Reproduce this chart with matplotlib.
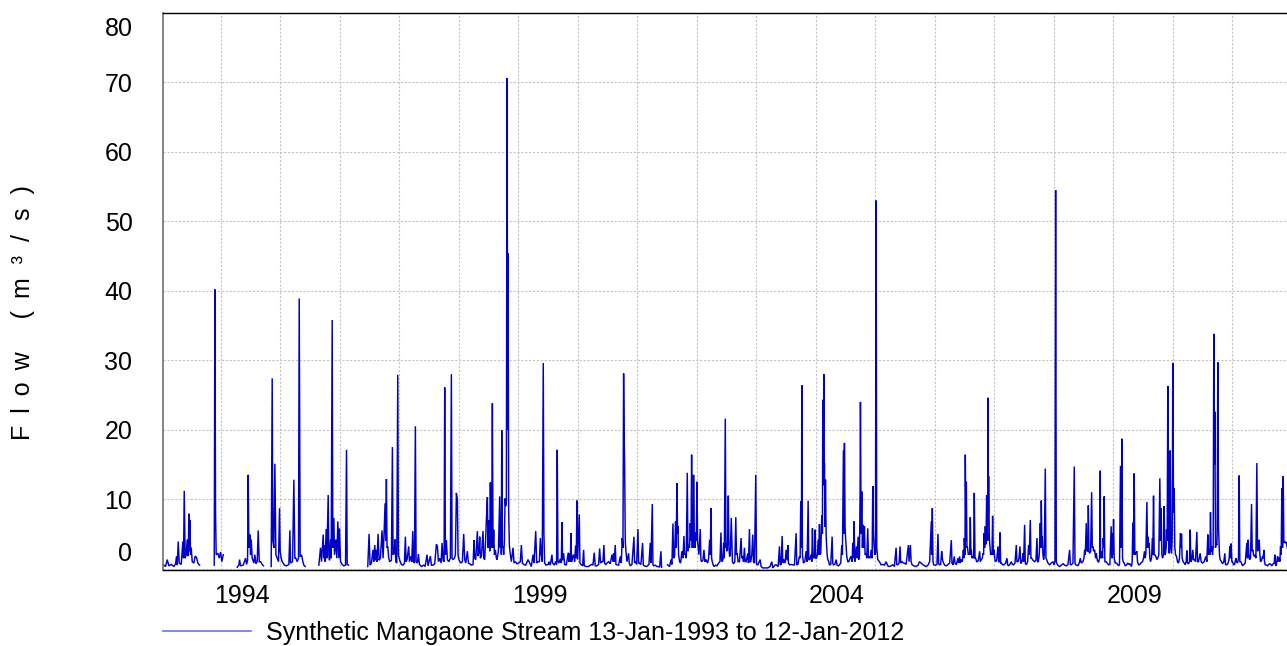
import numpy as np
import matplotlib
matplotlib.use("Agg")
import matplotlib.pyplot as plt
from matplotlib.lines import Line2D
from matplotlib.transforms import ScaledTranslation

nan = np.nan

# daily flow (m3/s), as (decimal year, flow); nan = missing record
flow_1993_1996 = [
    (1993.030, 0.4), (1993.048, 0.5), (1993.076, 0.3), (1993.104, 1.3), (1993.132, 0.4), (1993.171, 0.6),
    (1993.216, 0.3), (1993.244, 0.7), (1993.261, 1.8), (1993.272, 0.5), (1993.289, 3.9), (1993.306, 0.8),
    (1993.339, 0.6), (1993.367, 3.9), (1993.378, 1.5), (1993.390, 11.2), (1993.406, 1.5), (1993.423, 2.0),
    (1993.440, 4.2), (1993.457, 1.8), (1993.468, 7.9), (1993.479, 2.5), (1993.485, 7.0), (1993.496, 2.0),
    (1993.507, 3.0), (1993.524, 1.0), (1993.552, 0.8), (1993.574, 1.8), (1993.597, 1.6), (1993.619, 0.8),
    (1993.647, 0.5), (1993.75, nan),
    (1993.894, 0.5), (1993.905, 40.2), (1993.916, 8.0), (1993.927, 2.0), (1993.955, 2.2), (1993.978, 1.5),
    (1994.000, 2.4), (1994.022, 1.0), (1994.045, 2.0), (1994.15, nan),
    (1994.280, 0.2), (1994.308, 0.5), (1994.319, 1.3), (1994.336, 0.4), (1994.381, 0.5), (1994.420, 1.5),
    (1994.437, 0.6), (1994.454, 1.2), (1994.465, 13.5), (1994.476, 3.0), (1994.493, 4.9), (1994.504, 2.0),
    (1994.515, 4.2), (1994.532, 1.5), (1994.560, 0.8), (1994.577, 2.0), (1994.594, 0.7), (1994.616, 1.0),
    (1994.633, 5.5), (1994.650, 1.0), (1994.672, 1.0), (1994.700, 0.6), (1994.722, 0.4), (1994.78, nan),
    (1994.851, 0.3), (1994.868, 27.4), (1994.879, 4.0), (1994.896, 3.0), (1994.913, 15.1), (1994.930, 2.0),
    (1994.952, 1.5), (1994.974, 1.0), (1994.991, 8.7), (1995.002, 2.5), (1995.019, 1.5), (1995.036, 1.0),
    (1995.075, 0.5), (1995.109, 0.4), (1995.148, 0.6), (1995.165, 5.5), (1995.176, 0.8), (1995.210, 1.0),
    (1995.232, 12.8), (1995.249, 1.5), (1995.266, 1.5), (1995.288, 1.0), (1995.310, 1.5), (1995.322, 38.9),
    (1995.338, 1.7), (1995.361, 2.0), (1995.383, 1.0), (1995.400, 0.5), (1995.422, 0.3), (1995.5, nan),
    (1995.652, 0.5), (1995.680, 3.0), (1995.697, 1.0), (1995.725, 4.9), (1995.736, 1.5), (1995.747, 3.4),
    (1995.758, 1.0), (1995.775, 5.7), (1995.786, 1.5), (1995.809, 10.6), (1995.820, 2.0), (1995.831, 1.2),
    (1995.848, 4.2), (1995.859, 1.5), (1995.876, 35.8), (1995.887, 3.0), (1995.904, 7.3), (1995.915, 2.0),
    (1995.938, 4.2), (1995.954, 1.5), (1995.971, 6.8), (1995.988, 1.5), (1995.999, 5.8), (1996.016, 1.0),
    (1996.044, 0.6), (1996.072, 0.4), (1996.100, 0.5), (1996.117, 17.1), (1996.128, 0.6), (1996.150, 0.5),
    (1996.3, nan),
]

flow_1996_1999 = [
    (1996.474, 0.3), (1996.496, 5.0), (1996.513, 0.5), (1996.535, 0.8), (1996.563, 2.7), (1996.574, 1.0),
    (1996.591, 3.4), (1996.608, 1.2), (1996.619, 2.7), (1996.630, 1.0), (1996.647, 5.0), (1996.664, 1.2),
    (1996.686, 1.5), (1996.714, 5.5), (1996.731, 1.5), (1996.748, 5.1), (1996.765, 9.4), (1996.776, 4.0),
    (1996.787, 12.9), (1996.798, 3.0), (1996.810, 3.2), (1996.826, 1.5), (1996.843, 1.0), (1996.871, 1.2),
    (1996.888, 17.5), (1996.899, 2.0), (1996.916, 2.2), (1996.933, 4.2), (1996.944, 1.0), (1996.961, 0.8),
    (1996.978, 27.9), (1996.989, 2.0), (1997.011, 1.2), (1997.039, 0.6), (1997.067, 0.5), (1997.090, 0.8),
    (1997.106, 4.6), (1997.118, 1.0), (1997.134, 1.3), (1997.162, 3.2), (1997.174, 1.0), (1997.196, 1.75),
    (1997.213, 1.0), (1997.230, 5.4), (1997.241, 1.0), (1997.258, 0.8), (1997.274, 20.5), (1997.286, 1.0),
    (1997.308, 0.8), (1997.325, 2.1), (1997.342, 0.6), (1997.375, 0.3), (1997.414, 0.5), (1997.437, 0.3),
    (1997.470, 2.0), (1997.487, 0.4), (1997.526, 1.8), (1997.543, 0.5), (1997.571, 0.5), (1997.599, 0.7),
    (1997.627, 3.5), (1997.644, 3.2), (1997.661, 1.0), (1997.683, 1.5), (1997.706, 0.8), (1997.722, 3.7),
    (1997.739, 1.2), (1997.756, 1.0), (1997.767, 26.1), (1997.778, 2.0), (1997.795, 4.1), (1997.812, 1.3),
    (1997.834, 1.0), (1997.862, 1.5), (1997.879, 28.0), (1997.890, 1.5), (1997.907, 1.3), (1997.930, 1.5),
    (1997.946, 2.0), (1997.963, 10.9), (1997.980, 9.9), (1997.991, 2.0), (1998.008, 1.2), (1998.036, 0.8),
    (1998.064, 1.0), (1998.086, 5.0), (1998.103, 1.3), (1998.120, 0.8), (1998.148, 2.5), (1998.165, 0.8),
    (1998.187, 0.7), (1998.215, 0.5), (1998.243, 0.6), (1998.260, 4.1), (1998.271, 1.5), (1998.288, 1.3),
    (1998.316, 5.4), (1998.327, 1.8), (1998.344, 2.5), (1998.355, 4.6), (1998.366, 1.5), (1998.383, 1.75),
    (1998.411, 5.4), (1998.422, 1.5), (1998.439, 1.3), (1998.456, 4.5), (1998.467, 7.0), (1998.484, 10.3),
    (1998.495, 3.0), (1998.512, 7.0), (1998.523, 2.5), (1998.534, 12.4), (1998.546, 3.0), (1998.557, 6.0),
    (1998.568, 23.8), (1998.579, 3.0), (1998.590, 5.6), (1998.602, 2.0), (1998.618, 2.7), (1998.635, 1.5),
    (1998.646, 1.3), (1998.669, 2.5), (1998.691, 10.4), (1998.702, 3.0), (1998.708, 6.0), (1998.719, 2.0),
    (1998.725, 19.9), (1998.736, 3.0), (1998.747, 3.2), (1998.758, 2.0), (1998.770, 4.0), (1998.781, 10.1),
    (1998.792, 9.0), (1998.803, 9.9), (1998.814, 70.6), (1998.826, 20.0), (1998.831, 45.4), (1998.842, 8.0),
    (1998.854, 3.2), (1998.870, 2.0), (1998.887, 1.0), (1998.915, 3.0), (1998.932, 0.8), (1998.954, 1.0),
    (1998.982, 0.7), (1999.010, 0.8), (1999.038, 1.0), (1999.055, 3.4), (1999.072, 0.8), (1999.094, 0.6),
    (1999.128, 0.5), (1999.167, 1.3), (1999.195, 0.8), (1999.223, 0.3), (1999.251, 2.0), (1999.268, 0.8),
    (1999.296, 5.4), (1999.313, 0.8), (1999.335, 1.0), (1999.358, 1.0), (1999.374, 4.4),
]

flow_1999_2002 = [
    (1999.390, 2.0), (1999.406, 1.0), (1999.423, 29.6), (1999.434, 5.0), (1999.446, 0.8), (1999.468, 0.5),
    (1999.485, 0.55), (1999.507, 0.6), (1999.518, 1.0), (1999.541, 0.5), (1999.569, 2.0), (1999.580, 0.8),
    (1999.608, 0.5), (1999.630, 1.0), (1999.647, 0.6), (1999.658, 17.1), (1999.670, 1.0), (1999.686, 0.8),
    (1999.709, 1.4), (1999.726, 0.8), (1999.737, 6.7), (1999.748, 1.2), (1999.765, 2.2), (1999.782, 0.6),
    (1999.810, 0.5), (1999.843, 2.3), (1999.854, 1.0), (1999.866, 2.2), (1999.877, 1.0), (1999.888, 5.1),
    (1999.899, 1.0), (1999.916, 1.7), (1999.933, 2.0), (1999.950, 1.0), (1999.966, 3.3), (1999.978, 1.5),
    (1999.989, 9.8), (2000.000, 1.3), (2000.028, 7.8), (2000.039, 0.8), (2000.056, 0.6), (2000.084, 0.4),
    (2000.101, 2.7), (2000.112, 0.4), (2000.146, 0.3), (2000.185, 0.3), (2000.213, 0.5), (2000.241, 0.6),
    (2000.258, 0.5), (2000.280, 2.3), (2000.297, 0.4), (2000.325, 0.4), (2000.353, 0.6), (2000.370, 2.9),
    (2000.386, 0.8), (2000.409, 1.0), (2000.426, 1.0), (2000.442, 3.4), (2000.454, 0.8), (2000.470, 0.55),
    (2000.493, 0.8), (2000.521, 1.0), (2000.549, 0.7), (2000.577, 2.0), (2000.594, 1.0), (2000.605, 2.2),
    (2000.616, 1.0), (2000.633, 3.4), (2000.644, 0.6), (2000.661, 0.55), (2000.689, 0.5), (2000.717, 1.75),
    (2000.734, 0.8), (2000.750, 4.4), (2000.762, 3.0), (2000.773, 28.1), (2000.784, 18.0), (2000.790, 15.2),
    (2000.801, 4.0), (2000.812, 2.5), (2000.829, 1.0), (2000.857, 2.2), (2000.868, 0.8), (2000.885, 0.4),
    (2000.913, 0.6), (2000.947, 4.6), (2000.958, 0.8), (2000.969, 1.0), (2000.992, 0.6), (2001.014, 5.7),
    (2001.025, 0.8), (2001.036, 0.8), (2001.064, 0.6), (2001.092, 3.7), (2001.104, 0.5), (2001.120, 0.4),
    (2001.154, 0.3), (2001.176, 0.4), (2001.199, 0.6), (2001.221, 3.7), (2001.232, 0.8), (2001.255, 9.3),
    (2001.266, 0.6), (2001.277, 0.4), (2001.305, 0.5), (2001.333, 0.3), (2001.361, 0.3), (2001.378, 0.2),
    (2001.400, 2.5), (2001.411, 0.2), (2001.46, nan),
    (2001.512, 0.55), (2001.546, 0.3), (2001.568, 1.3), (2001.585, 0.6), (2001.602, 6.5), (2001.613, 1.5),
    (2001.630, 1.8), (2001.646, 6.8), (2001.658, 3.0), (2001.669, 12.3), (2001.680, 5.0), (2001.686, 6.1),
    (2001.697, 2.0), (2001.714, 1.0), (2001.731, 0.8), (2001.753, 2.5), (2001.770, 1.5), (2001.787, 4.7),
    (2001.798, 2.0), (2001.809, 2.2), (2001.826, 1.5), (2001.843, 13.8), (2001.854, 2.5), (2001.865, 3.4),
    (2001.882, 3.0), (2001.893, 6.55), (2001.905, 4.0), (2001.916, 16.4), (2001.927, 3.0), (2001.933, 5.1),
    (2001.944, 3.0), (2001.949, 13.5), (2001.961, 3.0), (2001.966, 3.4), (2001.977, 3.0), (2001.983, 5.2),
    (2001.994, 4.0), (2002.005, 12.5), (2002.017, 4.0), (2002.022, 3.4), (2002.039, 2.0), (2002.061, 5.7),
    (2002.073, 1.2), (2002.084, 1.0), (2002.106, 1.2), (2002.123, 2.7), (2002.140, 1.0), (2002.157, 1.3),
    (2002.185, 0.8), (2002.202, 1.5), (2002.218, 4.15), (2002.230, 2.0), (2002.241, 8.7), (2002.252, 1.5),
    (2002.263, 1.0), (2002.280, 0.5), (2002.297, 0.3), (2002.319, 0.5), (2002.342, 0.4), (2002.370, 0.8),
    (2002.392, 1.0), (2002.409, 5.2), (2002.420, 1.2), (2002.431, 1.0), (2002.442, 1.3), (2002.454, 3.7),
    (2002.465, 1.5), (2002.482, 21.6), (2002.493, 3.0), (2002.498, 3.6), (2002.510, 2.5), (2002.521, 4.0),
    (2002.532, 10.5), (2002.543, 3.0), (2002.554, 1.75), (2002.566, 2.0), (2002.582, 7.3),
]

flow_2002_2005 = [
    (2002.602, 1.0), (2002.619, 0.7), (2002.642, 1.0), (2002.658, 7.4), (2002.670, 2.0), (2002.681, 2.2),
    (2002.698, 1.0), (2002.720, 1.0), (2002.748, 4.4), (2002.759, 1.5), (2002.776, 1.75), (2002.787, 1.0),
    (2002.804, 3.0), (2002.815, 1.0), (2002.832, 1.0), (2002.860, 2.2), (2002.871, 0.8), (2002.888, 5.7),
    (2002.899, 1.0), (2002.910, 1.0), (2002.927, 2.0), (2002.944, 4.9), (2002.955, 1.0), (2002.972, 0.8),
    (2002.994, 13.5), (2003.006, 0.7), (2003.028, 0.5), (2003.067, 1.3), (2003.084, 0.3), (2003.112, 0.1),
    (2003.157, 0.1), (2003.196, 0.1), (2003.235, 0.3), (2003.263, 1.0), (2003.280, 0.1), (2003.314, 0.5),
    (2003.336, 0.55), (2003.370, 0.3), (2003.392, 3.2), (2003.403, 0.6), (2003.420, 0.55), (2003.437, 4.7),
    (2003.448, 0.8), (2003.465, 1.3), (2003.487, 0.8), (2003.504, 2.7), (2003.521, 1.2), (2003.532, 3.4),
    (2003.543, 0.8), (2003.560, 0.55), (2003.588, 0.6), (2003.616, 0.55), (2003.644, 0.5), (2003.672, 5.1),
    (2003.683, 0.6), (2003.700, 0.55), (2003.728, 1.75), (2003.739, 1.5), (2003.750, 9.7), (2003.762, 3.0),
    (2003.767, 26.4), (2003.778, 2.0), (2003.795, 0.8), (2003.818, 1.0), (2003.840, 2.5), (2003.857, 1.0),
    (2003.874, 9.8), (2003.885, 1.3), (2003.902, 1.3), (2003.924, 2.0), (2003.935, 1.0), (2003.946, 5.8),
    (2003.958, 1.5), (2003.969, 1.75), (2003.980, 1.5), (2003.991, 5.6), (2004.002, 1.5), (2004.014, 1.5),
    (2004.030, 2.0), (2004.047, 4.15), (2004.053, 2.0), (2004.064, 6.4), (2004.075, 2.0), (2004.086, 2.2),
    (2004.103, 7.7), (2004.114, 5.0), (2004.120, 24.3), (2004.131, 15.0), (2004.137, 28.0), (2004.142, 12.0),
    (2004.148, 15.2), (2004.159, 6.0), (2004.165, 12.8), (2004.176, 5.0), (2004.182, 3.7), (2004.193, 2.0),
    (2004.204, 1.3), (2004.221, 1.0), (2004.232, 0.55), (2004.254, 0.6), (2004.277, 4.6), (2004.288, 0.8),
    (2004.299, 0.55), (2004.322, 0.6), (2004.344, 1.3), (2004.361, 0.5), (2004.383, 0.4), (2004.400, 0.55),
    (2004.422, 0.8), (2004.439, 3.4), (2004.450, 2.0), (2004.467, 17.0), (2004.478, 5.0), (2004.484, 18.1),
    (2004.495, 6.0), (2004.506, 4.0), (2004.523, 1.75), (2004.540, 1.0), (2004.557, 1.0), (2004.579, 1.5),
    (2004.596, 1.75), (2004.613, 1.0), (2004.624, 3.7), (2004.635, 1.5), (2004.646, 6.8), (2004.658, 1.0),
    (2004.669, 1.75), (2004.686, 3.2), (2004.697, 1.5), (2004.714, 4.6), (2004.725, 1.3), (2004.736, 1.75),
    (2004.747, 11.0), (2004.753, 24.0), (2004.764, 5.0), (2004.775, 11.1), (2004.786, 3.0), (2004.798, 6.3),
    (2004.809, 3.0), (2004.820, 6.1), (2004.831, 2.0), (2004.848, 2.2), (2004.859, 1.5), (2004.876, 5.8),
    (2004.887, 1.5), (2004.904, 1.75), (2004.921, 1.5), (2004.932, 2.7), (2004.949, 1.5), (2004.960, 11.9),
    (2004.971, 5.0), (2004.982, 3.2), (2004.994, 2.0), (2005.005, 2.2), (2005.016, 53.0), (2005.027, 3.0),
    (2005.044, 1.3), (2005.072, 1.0), (2005.100, 0.55), (2005.128, 0.6), (2005.156, 0.5), (2005.184, 1.0),
    (2005.212, 0.4), (2005.240, 0.3), (2005.268, 0.4), (2005.296, 0.55), (2005.324, 0.3), (2005.352, 3.0),
    (2005.363, 0.6), (2005.380, 0.55), (2005.402, 0.8), (2005.419, 3.2), (2005.430, 0.8), (2005.453, 1.0),
    (2005.475, 0.8), (2005.492, 0.8), (2005.520, 0.6), (2005.559, 3.4), (2005.570, 1.0), (2005.593, 3.4),
    (2005.604, 1.0), (2005.621, 0.55), (2005.649, 0.4), (2005.688, 0.3), (2005.722, 0.5), (2005.744, 1.0),
    (2005.772, 0.8),
]

flow_2005_2008 = [
    (2005.804, 0.55), (2005.832, 0.4), (2005.860, 0.3), (2005.888, 0.5), (2005.916, 1.0), (2005.944, 6.8),
    (2005.950, 2.0), (2005.961, 8.7), (2005.972, 1.0), (2005.983, 0.55), (2006.011, 0.5), (2006.039, 0.6),
    (2006.056, 5.0), (2006.067, 0.8), (2006.078, 0.55), (2006.101, 0.6), (2006.118, 2.5), (2006.129, 1.5),
    (2006.140, 1.0), (2006.168, 0.5), (2006.196, 0.4), (2006.224, 0.6), (2006.252, 0.8), (2006.280, 4.1),
    (2006.291, 0.8), (2006.308, 0.55), (2006.330, 1.75), (2006.342, 0.8), (2006.364, 0.55), (2006.392, 1.5),
    (2006.403, 0.8), (2006.420, 1.75), (2006.431, 0.8), (2006.448, 1.3), (2006.465, 1.0), (2006.482, 2.7),
    (2006.493, 1.5), (2006.498, 4.4), (2006.510, 2.0), (2006.515, 16.4), (2006.526, 4.0), (2006.532, 12.5),
    (2006.543, 3.0), (2006.549, 3.2), (2006.566, 2.0), (2006.577, 2.2), (2006.588, 2.0), (2006.599, 7.4),
    (2006.610, 2.0), (2006.616, 2.7), (2006.627, 1.5), (2006.644, 1.75), (2006.655, 1.5), (2006.666, 10.9),
    (2006.678, 1.5), (2006.689, 1.5), (2006.706, 1.0), (2006.717, 1.0), (2006.734, 1.2), (2006.756, 2.5),
    (2006.767, 1.0), (2006.784, 1.3), (2006.801, 1.5), (2006.812, 2.2), (2006.823, 2.0), (2006.829, 5.1),
    (2006.840, 3.0), (2006.851, 6.1), (2006.862, 3.5), (2006.874, 10.6), (2006.879, 4.0), (2006.885, 5.1),
    (2006.890, 4.0), (2006.896, 24.6), (2006.902, 8.0), (2006.907, 13.3), (2006.918, 4.6), (2006.930, 3.0),
    (2006.941, 2.0), (2006.952, 2.2), (2006.963, 2.0), (2006.974, 7.6), (2006.986, 2.0), (2006.997, 2.7),
    (2007.014, 1.2), (2007.025, 1.0), (2007.042, 1.2), (2007.064, 3.2), (2007.075, 1.0), (2007.086, 1.0),
    (2007.098, 5.2), (2007.109, 0.8), (2007.120, 0.8), (2007.142, 0.55), (2007.165, 0.55), (2007.193, 0.8),
    (2007.215, 1.5), (2007.226, 0.6), (2007.238, 0.4), (2007.260, 0.55), (2007.288, 1.0), (2007.305, 0.6),
    (2007.327, 0.55), (2007.350, 0.8), (2007.372, 3.4), (2007.383, 1.0), (2007.400, 1.0), (2007.417, 1.5),
    (2007.434, 3.2), (2007.445, 0.8), (2007.456, 0.8), (2007.473, 1.3), (2007.484, 2.2), (2007.495, 1.0),
    (2007.512, 6.3), (2007.523, 0.8), (2007.540, 0.55), (2007.562, 1.0), (2007.579, 3.4), (2007.590, 2.0),
    (2007.607, 7.0), (2007.618, 1.5), (2007.630, 1.5), (2007.652, 1.2), (2007.680, 1.0), (2007.702, 1.2),
    (2007.719, 4.4), (2007.730, 1.0), (2007.742, 1.0), (2007.758, 2.0), (2007.775, 6.55), (2007.786, 3.0),
    (2007.792, 9.8), (2007.803, 3.0), (2007.809, 4.6), (2007.820, 2.0), (2007.831, 1.3), (2007.842, 2.0),
    (2007.859, 14.4), (2007.870, 1.5), (2007.882, 1.3), (2007.904, 0.8), (2007.932, 0.55), (2007.960, 0.8),
    (2007.988, 1.0), (2008.005, 0.55), (2008.022, 1.0), (2008.033, 54.5), (2008.044, 1.0), (2008.061, 0.6),
    (2008.083, 0.4), (2008.100, 0.3), (2008.128, 0.5), (2008.156, 0.7), (2008.184, 0.5), (2008.212, 0.4),
    (2008.240, 0.6), (2008.268, 2.7), (2008.279, 0.6), (2008.296, 0.55), (2008.324, 0.8), (2008.346, 14.7),
    (2008.358, 0.8), (2008.369, 0.55), (2008.391, 0.5), (2008.408, 0.4), (2008.430, 0.8), (2008.447, 1.5),
    (2008.464, 0.8), (2008.492, 1.0), (2008.509, 1.5), (2008.520, 2.7), (2008.531, 2.0), (2008.548, 6.55),
    (2008.559, 2.5), (2008.565, 2.7), (2008.576, 2.5), (2008.582, 9.1), (2008.593, 2.5), (2008.604, 2.2),
    (2008.621, 2.5), (2008.638, 11.0), (2008.649, 3.0), (2008.660, 3.2), (2008.671, 2.5), (2008.688, 2.7),
    (2008.705, 1.5), (2008.716, 2.2), (2008.733, 1.2), (2008.755, 0.9), (2008.772, 1.5), (2008.783, 14.1),
]

flow_2008_2012 = [
    (2008.787, 2.0), (2008.798, 1.5), (2008.810, 2.5), (2008.821, 1.5), (2008.832, 4.4), (2008.843, 3.0),
    (2008.849, 10.4), (2008.860, 1.0), (2008.877, 1.0), (2008.899, 0.8), (2008.922, 0.55), (2008.944, 0.6),
    (2008.966, 6.1), (2008.978, 1.5), (2008.989, 5.1), (2008.994, 2.0), (2009.006, 7.1), (2009.017, 1.5),
    (2009.034, 0.8), (2009.056, 0.8), (2009.073, 0.6), (2009.090, 0.4), (2009.106, 0.6), (2009.123, 14.8),
    (2009.134, 3.0), (2009.146, 18.7), (2009.157, 1.5), (2009.168, 1.0), (2009.185, 0.8), (2009.202, 0.4),
    (2009.224, 0.5), (2009.241, 0.8), (2009.269, 0.6), (2009.280, 0.7), (2009.308, 0.3), (2009.319, 1.0),
    (2009.330, 6.6), (2009.342, 2.0), (2009.353, 13.7), (2009.364, 2.0), (2009.381, 2.2), (2009.398, 2.5),
    (2009.409, 1.0), (2009.426, 0.55), (2009.448, 0.6), (2009.465, 0.8), (2009.493, 1.0), (2009.510, 1.5),
    (2009.526, 2.5), (2009.538, 1.5), (2009.549, 2.2), (2009.566, 9.6), (2009.577, 3.0), (2009.582, 4.6),
    (2009.594, 3.0), (2009.605, 3.7), (2009.616, 1.5), (2009.627, 1.0), (2009.644, 1.5), (2009.661, 4.4),
    (2009.666, 2.0), (2009.678, 10.5), (2009.689, 2.0), (2009.700, 2.0), (2009.717, 1.75), (2009.734, 1.3),
    (2009.750, 1.5), (2009.767, 2.0), (2009.784, 13.0), (2009.795, 4.0), (2009.806, 8.7), (2009.818, 2.0),
    (2009.829, 1.5), (2009.846, 2.0), (2009.857, 9.0), (2009.868, 2.0), (2009.879, 2.2), (2009.890, 3.0),
    (2009.896, 5.6), (2009.907, 4.0), (2009.918, 26.3), (2009.930, 4.0), (2009.941, 2.2), (2009.952, 4.0),
    (2009.958, 17.0), (2009.969, 3.0), (2009.980, 2.2), (2009.991, 4.0), (2010.002, 29.6), (2010.014, 8.0),
    (2010.025, 11.6), (2010.036, 3.0), (2010.048, 2.0), (2010.064, 1.75), (2010.081, 1.0), (2010.098, 0.8),
    (2010.114, 1.5), (2010.131, 5.1), (2010.142, 3.0), (2010.148, 5.0), (2010.159, 1.5), (2010.176, 1.0),
    (2010.193, 0.8), (2010.210, 0.55), (2010.226, 1.0), (2010.238, 2.6), (2010.249, 0.8), (2010.266, 0.7),
    (2010.282, 1.0), (2010.294, 5.6), (2010.305, 1.0), (2010.322, 1.3), (2010.338, 2.7), (2010.350, 1.3),
    (2010.361, 1.3), (2010.383, 1.0), (2010.406, 5.3), (2010.417, 1.0), (2010.434, 1.0), (2010.462, 2.2),
    (2010.478, 1.0), (2010.501, 0.8), (2010.529, 1.0), (2010.557, 1.75), (2010.574, 1.0), (2010.590, 4.9),
    (2010.602, 2.0), (2010.613, 2.7), (2010.624, 2.0), (2010.635, 8.1), (2010.646, 2.5), (2010.658, 3.2),
    (2010.669, 2.0), (2010.680, 3.0), (2010.691, 33.8), (2010.702, 15.0), (2010.708, 22.6), (2010.719, 3.0),
    (2010.730, 3.7), (2010.742, 3.4), (2010.747, 5.0), (2010.758, 29.7), (2010.770, 6.0), (2010.775, 4.6),
    (2010.786, 2.0), (2010.798, 1.3), (2010.820, 1.0), (2010.837, 0.7), (2010.859, 1.0), (2010.876, 2.2),
    (2010.887, 0.6), (2010.898, 0.55), (2010.915, 0.6), (2010.932, 0.8), (2010.949, 1.5), (2010.960, 3.2),
    (2010.971, 1.5), (2010.982, 3.6), (2010.994, 1.0), (2011.005, 1.0), (2011.022, 0.6), (2011.039, 0.55),
    (2011.061, 1.5), (2011.072, 1.0), (2011.089, 0.8), (2011.106, 1.5), (2011.117, 13.4), (2011.128, 1.0),
    (2011.145, 1.0), (2011.174, 0.4), (2011.196, 0.6), (2011.218, 0.8), (2011.246, 3.7), (2011.257, 1.5),
    (2011.268, 4.15), (2011.280, 2.0), (2011.291, 1.3), (2011.308, 1.5), (2011.325, 9.3), (2011.336, 2.5),
    (2011.347, 2.7), (2011.358, 2.0), (2011.370, 1.75), (2011.386, 2.0), (2011.398, 1.5), (2011.414, 15.2),
    (2011.426, 2.5), (2011.437, 2.7), (2011.454, 4.15), (2011.465, 2.0), (2011.476, 1.0), (2011.493, 1.2),
    (2011.510, 1.75), (2011.521, 1.5), (2011.532, 2.7), (2011.543, 1.0), (2011.554, 0.55), (2011.577, 0.5),
    (2011.594, 0.4), (2011.610, 0.6), (2011.633, 0.7), (2011.650, 0.6), (2011.666, 0.4), (2011.689, 0.7),
    (2011.706, 0.8), (2011.717, 2.0), (2011.728, 0.6), (2011.739, 0.4), (2011.762, 1.75), (2011.773, 1.0),
    (2011.790, 1.6), (2011.801, 1.0), (2011.812, 3.2), (2011.823, 2.0), (2011.834, 11.6), (2011.846, 3.0),
    (2011.857, 13.3), (2011.868, 4.0), (2011.874, 3.7), (2011.885, 3.9), (2011.896, 3.7), (2011.907, 3.8),
    (2011.950, 2.0), (2011.990, 1.5), (2012.030, 1.2),
]

year_labels = [1994, 1999, 2004, 2009]
y_ticks = [0, 10, 20, 30, 40, 50, 60, 70, 80]
series_label = "Synthetic Mangaone Stream 13-Jan-1993 to 12-Jan-2012"
y_title = "F \u2009l \u2009o \u2009w    \u2009( \u2009m  \u00b3  /  s  )"
t_start, t_end = 1993.033, 2012.030

records = (flow_1993_1996 + flow_1996_1999 + flow_1999_2002 +
           flow_2002_2005 + flow_2005_2008 + flow_2008_2012)
t = np.array([r[0] for r in records])
q = np.array([r[1] for r in records])

plt.rcParams['font.family'] = ['Liberation Sans', 'DejaVu Sans']
plt.rcParams['font.size'] = 18

W, H = 1287, 646
fig = plt.figure(figsize=(W / 100, H / 100), dpi=100)
ax = fig.add_axes([163 / W, 1 - 570 / H, 1130.5 / W, (570 - 13) / H])

line_color = '#0000cc'
ax.plot(t, q, color=line_color, lw=1.05, solid_joinstyle='miter')

ax.set_xlim(t_start, t_end)
ax.set_ylim(-0.2, 80)

# year boundaries carry the grid, labels sit a little into each year
ax.set_xticks(np.arange(1994, 2012), minor=True)
ax.set_xticks([y + 0.36 for y in year_labels])
ax.set_xticklabels([str(y) for y in year_labels])
ax.set_yticks(y_ticks)
ax.set_yticklabels([str(v) for v in y_ticks])
ax.tick_params(axis='both', which='both', length=0)
ax.tick_params(axis='x', pad=10)
ax.tick_params(axis='y', pad=22)

grid_kw = dict(color='#c4c4c4', lw=0.8, linestyle=(0, (2, 1.5)))
ax.grid(False)
ax.xaxis.grid(True, which='minor', **grid_kw)
ax.yaxis.grid(True, which='major', **grid_kw)
ax.set_axisbelow(True)

# end labels are pulled inside the plot area as in the original
ylabels = ax.get_yticklabels()
ylabels[0].set_transform(ylabels[0].get_transform() + ScaledTranslation(0, 0.17, fig.dpi_scale_trans))
ylabels[-1].set_transform(ylabels[-1].get_transform() + ScaledTranslation(0, -0.14, fig.dpi_scale_trans))

for side in ['top', 'bottom']:
    ax.spines[side].set_color('black')
    ax.spines[side].set_linewidth(1.0)
ax.spines['left'].set_color('#707070')
ax.spines['left'].set_linewidth(1.2)
ax.spines['right'].set_visible(False)

fig.text(23 / W, 1 - 313 / H, y_title, rotation=90,
         ha='center', va='center', fontsize=18)

handle = Line2D([], [], color=line_color, lw=1.2, alpha=0.55)
fig.legend([handle], [series_label], loc='center left',
           bbox_to_anchor=(163 / W, 1 - 633 / H), frameon=False,
           handlelength=3.5, handletextpad=0.6, borderpad=0, borderaxespad=0,
           fontsize=18)

fig.savefig('out.png', dpi=100)
